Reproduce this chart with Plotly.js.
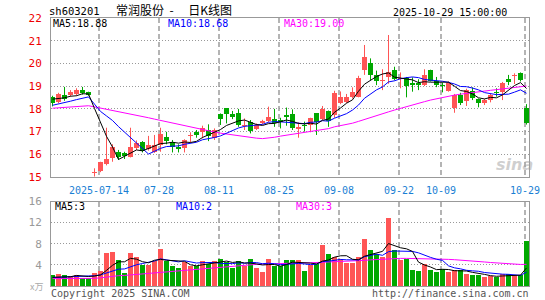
<!DOCTYPE html>
<html><head><meta charset="utf-8">
<script src="https://cdn.plot.ly/plotly-3.0.1.min.js"></script>
<style>html,body{margin:0;padding:0;background:#fff;}#chart{width:545px;height:300px;}</style>
</head><body><div id="chart"></div>
<script>
const dates = ['07-02','07-03','07-04','07-07','07-08','07-09','07-10','07-11','07-14','07-15','07-16','07-17','07-18','07-21','07-22','07-23','07-24','07-25','07-28','07-29','07-30','07-31',
'08-01','08-04','08-05','08-06','08-07','08-08','08-11','08-12','08-13','08-14','08-15','08-18','08-19','08-20','08-21','08-22','08-25','08-26','08-27','08-28','08-29',
'09-01','09-02','09-03','09-04','09-05','09-08','09-09','09-10','09-11','09-12','09-15','09-16','09-17','09-18','09-19','09-22','09-23','09-24','09-25','09-26','09-29','09-30',
'10-09','10-10','10-13','10-14','10-15','10-16','10-17','10-20','10-21','10-22','10-23','10-24','10-27','10-28','10-29'];

const openP = [18.50,18.31,18.60,18.60,18.63,18.82,18.72,15.18,15.25,15.56,
15.84,16.07,16.03,15.88,16.25,16.51,16.22,16.10,16.40,16.74,
16.54,16.32,16.25,16.78,16.96,16.96,17.06,16.69,17.76,18.01,
17.76,17.79,17.22,17.40,17.10,17.37,17.46,17.54,17.50,17.70,
17.76,17.12,17.28,17.28,17.79,17.53,17.90,17.72,18.26,18.31,
18.53,18.53,19.71,20.03,19.47,19.24,19.38,19.72,19.30,19.34,
19.15,19.12,19.05,19.71,19.24,19.02,18.79,18.01,18.60,18.35,
18.79,18.41,18.24,18.38,18.73,18.75,19.31,19.42,19.56,18.01];
const highP = [18.57,18.70,18.96,18.82,18.90,18.96,18.75,15.37,15.66,17.16,
16.43,16.18,16.10,17.16,16.60,16.57,16.80,16.84,17.16,16.98,
16.62,16.43,16.65,16.96,17.06,17.25,17.31,17.13,17.79,18.03,
17.90,17.99,17.57,17.50,17.35,17.51,18.09,17.99,17.60,18.05,
17.97,17.40,17.43,17.60,17.80,18.12,17.92,18.79,18.76,18.65,
18.94,19.45,20.81,20.22,19.68,19.74,21.25,19.85,19.60,19.40,
19.38,19.30,19.74,19.72,19.40,19.15,19.20,18.65,18.70,18.88,
18.94,18.45,18.44,18.65,18.90,19.18,19.49,19.56,19.60,18.20];
const lowP = [18.10,18.24,18.35,18.53,18.57,18.62,18.57,15.00,15.20,15.50,
15.66,15.74,15.78,15.85,16.18,16.07,16.15,16.05,16.10,16.43,
16.07,16.07,16.07,16.51,16.72,16.69,16.57,16.62,17.28,17.35,
17.54,17.20,17.06,16.91,17.06,17.31,17.40,17.20,17.13,17.25,
17.06,16.72,16.99,16.96,16.84,17.50,17.20,17.60,18.20,18.25,
18.45,18.50,19.49,19.26,19.04,18.82,19.10,19.25,18.90,18.50,
18.75,18.82,19.00,19.20,18.95,18.72,18.75,17.82,18.16,18.12,
18.38,18.06,18.16,18.28,18.53,18.38,19.04,19.09,19.20,17.30];
const closeP = [18.24,18.63,18.41,18.72,18.84,18.68,18.60,15.22,15.63,15.78,
16.31,15.88,15.91,16.31,16.47,16.13,16.40,16.40,16.90,16.57,
16.32,16.22,16.62,16.82,16.84,17.16,16.81,17.06,17.53,17.76,
17.65,17.28,17.28,17.01,17.28,17.46,17.65,17.35,17.43,17.62,
17.15,17.20,17.25,17.57,17.43,18.00,17.47,18.71,18.53,18.50,
18.74,19.35,20.29,19.49,19.24,19.28,19.62,19.30,19.36,19.00,
19.05,19.05,19.50,19.24,19.03,18.98,19.12,18.60,18.26,18.82,
18.46,18.24,18.38,18.60,18.70,19.15,19.19,19.45,19.26,17.38];
const volume = [2.0,2.2,2.0,1.8,2.0,1.6,1.6,2.4,2.9,6.3,
6.4,4.9,2.4,6.2,5.5,4.0,3.9,4.8,7.0,4.7,
3.8,3.4,4.5,3.7,3.7,4.8,4.2,4.8,5.2,4.6,
3.5,4.8,3.7,5.2,3.5,2.7,5.2,3.7,3.7,5.0,
5.0,5.0,2.8,3.9,4.2,7.7,6.0,5.5,5.2,4.3,
4.3,5.5,8.9,6.8,6.1,5.5,12.9,6.8,4.9,5.1,
3.0,2.8,4.1,3.0,2.6,3.3,2.6,3.0,3.0,2.3,
2.0,2.0,1.7,1.8,1.7,2.3,2.3,2.0,2.0,8.5];

const ma5 = [18.42,18.45,18.48,18.55,18.57,18.66,18.65,18.01,17.39,16.78,
16.31,15.76,15.90,16.04,16.18,16.14,16.24,16.34,16.46,16.48,
16.52,16.48,16.53,16.51,16.56,16.73,16.85,16.94,17.08,17.26,
17.36,17.46,17.50,17.40,17.30,17.26,17.34,17.35,17.43,17.50,
17.44,17.35,17.33,17.36,17.32,17.49,17.54,17.84,18.03,18.24,
18.39,18.77,19.08,19.27,19.42,19.53,19.58,19.39,19.36,19.31,
19.27,19.15,19.19,19.17,19.17,19.16,19.17,18.99,18.80,18.76,
18.65,18.48,18.43,18.50,18.48,18.61,18.80,19.02,19.15,18.89];
const ma10 = [18.15,18.20,18.27,18.33,18.40,18.45,18.52,18.20,17.88,17.68,
17.48,17.21,16.96,16.72,16.48,16.22,16.00,16.12,16.25,16.33,
16.33,16.36,16.43,16.49,16.52,16.63,16.67,16.73,16.80,16.91,
17.05,17.15,17.22,17.24,17.28,17.31,17.40,17.43,17.42,17.40,
17.35,17.34,17.34,17.40,17.41,17.47,17.45,17.58,17.69,17.78,
17.94,18.16,18.46,18.65,18.83,18.96,19.18,19.23,19.32,19.37,
19.40,19.37,19.29,19.26,19.24,19.21,19.16,19.09,18.98,18.97,
18.91,18.83,18.71,18.65,18.62,18.63,18.64,18.73,18.83,18.68];
const ma30 = [18.02,18.04,18.06,18.08,18.10,18.12,18.13,18.08,18.03,17.98,
17.93,17.88,17.83,17.78,17.73,17.66,17.60,17.54,17.48,17.42,
17.36,17.30,17.24,17.18,17.12,17.07,17.02,16.97,16.92,16.88,
16.84,16.80,16.76,16.73,16.70,16.68,16.70,16.74,16.79,16.83,
16.87,16.90,16.94,16.98,17.02,17.06,17.12,17.20,17.25,17.30,
17.36,17.44,17.53,17.61,17.69,17.77,17.86,17.94,18.02,18.10,
18.17,18.24,18.31,18.38,18.44,18.50,18.55,18.60,18.64,18.68,
18.72,18.75,18.78,18.81,18.84,18.87,18.90,18.94,18.97,19.00];

const volMa5 = [1.65,1.68,1.70,1.75,2.00,1.92,1.80,1.88,2.10,2.96,
3.92,4.58,4.58,5.24,5.08,4.60,4.40,4.88,5.04,4.88,
4.84,4.74,4.68,4.02,3.82,4.02,4.18,4.24,4.54,4.72,
4.46,4.58,4.36,4.36,4.14,3.98,4.06,4.06,3.76,4.06,
4.52,4.48,4.30,4.34,4.18,4.72,4.92,5.46,5.72,5.74,
5.06,4.96,5.64,5.96,6.32,6.56,8.04,7.62,7.24,7.04,
6.54,4.52,3.98,3.60,3.10,3.16,3.12,2.90,2.90,2.84,
2.58,2.46,2.20,1.96,1.84,1.90,1.96,2.02,2.06,3.42];
const volMa10 = [1.60,1.65,1.70,1.75,1.80,1.85,1.85,1.95,2.10,2.48,
2.92,3.19,3.23,3.67,4.02,4.26,4.49,4.73,5.14,4.98,
4.72,4.57,4.78,4.53,4.35,4.43,4.46,4.46,4.28,4.27,
4.24,4.38,4.30,4.45,4.43,4.22,4.32,4.21,4.06,4.10,
4.25,4.27,4.18,4.05,4.12,4.62,4.70,4.88,5.03,4.96,
4.89,4.94,5.55,5.84,6.03,5.81,6.50,6.63,6.60,6.68,
6.55,6.28,5.80,5.42,5.07,4.85,3.82,3.44,3.25,2.97,
2.87,2.79,2.55,2.43,2.34,2.24,2.21,2.11,2.01,2.63];
const volMa30 = [1.40,1.40,1.40,1.40,1.40,1.40,1.40,1.45,1.55,1.70,
1.85,1.95,2.00,2.10,2.20,2.25,2.30,2.40,2.55,2.65,
2.75,2.85,2.95,3.05,3.15,3.25,3.35,3.45,3.55,3.65,
3.75,3.85,3.95,4.05,4.10,4.15,4.20,4.25,4.30,4.32,
4.35,4.37,4.38,4.40,4.42,4.50,4.55,4.60,4.65,4.68,
4.70,4.75,4.85,4.95,5.02,5.08,5.20,5.22,5.23,5.23,
5.22,5.20,5.18,5.15,5.12,5.08,5.04,4.98,4.92,4.85,
4.75,4.65,4.55,4.45,4.35,4.25,4.18,4.12,4.08,4.10];

const priceTicks = [15,16,17,18,19,20,21,22];
const volTicks = [4,8,12,16];
const tickDates = ['07-14','07-28','08-11','08-25','09-08','09-22','10-09','10-29'];
const tickText = ['2025-07-14','07-28','08-11','08-25','09-08','09-22','10-09','10-29'];

// ---- geometry / style ----
const L = 51, R = 529, T = 18, B = 286;
const UP = '#ff5555', DOWN = '#00a800';
const MONO = 'DejaVu Sans Mono';
const x = dates.map((d, i) => i);
const isUp = closeP.map((c, i) => c >= openP[i]);
const tickIdx = tickDates.map(d => dates.indexOf(d));
const gridX = tickIdx.map(i => i - 0.25);

function wicks(up) {
  const xs = [], ys = [];
  x.forEach(i => { if (isUp[i] === up) { xs.push(i, i, null); ys.push(lowP[i], highP[i], null); } });
  return {type:'scatter', mode:'lines', x:xs, y:ys, xaxis:'x', yaxis:'y',
    line:{color: up ? UP : DOWN, width:1}, hoverinfo:'skip'};
}
const bodyTrace = {
  type:'bar', x:x, xaxis:'x', yaxis:'y',
  base: x.map(i => Math.min(openP[i], closeP[i])),
  y: x.map(i => Math.max(Math.abs(closeP[i] - openP[i]), 0.045)),
  width: 0.8333,
  marker:{color: x.map(i => isUp[i] ? UP : DOWN), line:{width:0}}, hoverinfo:'skip'
};
function line(y, color, xa, ya) {
  return {type:'scatter', mode:'lines', x:x, y:y, xaxis:xa, yaxis:ya,
    line:{color:color, width:1}, hoverinfo:'skip'};
}
const volTrace = {
  type:'bar', x:x, y:volume, xaxis:'x2', yaxis:'y2', width:0.8333,
  marker:{color: x.map(i => isUp[i] ? UP : DOWN), line:{width:0}}, hoverinfo:'skip'
};

const data = [
  wicks(true), wicks(false), bodyTrace,
  line(ma30, '#ff00ff', 'x', 'y'), line(ma10, '#0000ff', 'x', 'y'), line(ma5, '#000000', 'x', 'y'),
  volTrace,
  line(volMa30, '#ff00ff', 'x2', 'y2'), line(volMa10, '#0000ff', 'x2', 'y2'), line(volMa5, '#000000', 'x2', 'y2')
];

const px = v => (v - L) / (R - L);
const py = v => (B - v) / (B - T);
function ann(text, xp, yp, anchor, color, size, family, extra) {
  return Object.assign({text:text, x:px(xp), y:py(yp), xref:'paper', yref:'paper',
    xanchor:anchor, yanchor:'middle', showarrow:false, borderpad:0,
    font:{family:family || MONO, size:size || 10, color:color || '#000'}}, extra || {});
}

const xRange = [-0.25, -0.25 + (R - L) / 6];
const xCommon = {
  range:xRange, tickmode:'array', tickvals:gridX, ticktext:tickText,
  showgrid:true, gridcolor:'#b4b4b4', griddash:'5px,3px', gridwidth:2,
  showline:true, mirror:true, linecolor:'#999999', linewidth:1,
  zeroline:false, fixedrange:true,
  ticks:'outside', ticklen:4, tickcolor:'rgba(0,0,0,0)'
};
const priceBottom = 176.7, volTop = 201.5;
const layout = {
  width:545, height:300,
  margin:{l:L, r:545 - R, t:T, b:300 - B, pad:0},
  paper_bgcolor:'#ffffff', plot_bgcolor:'#ffffff',
  showlegend:false, barmode:'overlay', bargap:0,
  xaxis:Object.assign({}, xCommon, {anchor:'y', domain:[0,1],
    tickfont:{family:MONO, size:10, color:'#1a7fd4'}}),
  xaxis2:Object.assign({}, xCommon, {anchor:'y2', domain:[0,1], showticklabels:false}),
  yaxis:{domain:[py(priceBottom), 1], range:[15,22], tickmode:'array', tickvals:priceTicks,
    ticktext:priceTicks.map(String),
    showgrid:true, gridcolor:'#999999', griddash:'1px,2px', gridwidth:1,
    showline:true, mirror:true, linecolor:'#999999', linewidth:1, zeroline:false, fixedrange:true,
    ticks:'outside', ticklen:6, tickcolor:'rgba(0,0,0,0)',
    tickfont:{family:MONO, size:11, color:'#ee0000'}},
  yaxis2:{domain:[0, py(volTop)], range:[0,16], tickmode:'array', tickvals:volTicks,
    ticktext:volTicks.map(String),
    showgrid:true, gridcolor:'#999999', griddash:'1px,2px', gridwidth:1,
    showline:true, mirror:true, linecolor:'#999999', linewidth:1, zeroline:false, fixedrange:true,
    ticks:'outside', ticklen:6, tickcolor:'rgba(0,0,0,0)',
    tickfont:{family:MONO, size:11, color:'#999999'}},
  annotations:[
    ann('sh603201', 48, 11, 'left', '#000', 10.5),
    ann('常润股份  -　 日K线图', 115, 9, 'left', '#000', 12, 'Noto Sans CJK SC'),
    ann('2025-10-29 15:00:00', 508, 12, 'right', '#000', 10),
    ann('MA5:18.88', 52, 24, 'left', '#000', 10),
    ann('MA10:18.68', 167, 24, 'left', '#0000ff', 10),
    ann('MA30:19.00', 283, 24, 'left', '#ff00ff', 10),
    ann('MA5:3', 54, 206, 'left', '#000', 10),
    ann('MA10:2', 175, 206, 'left', '#0000ff', 10),
    ann('MA30:3', 295, 206, 'left', '#ff00ff', 10),
    ann('x万', 36, 286, 'center', '#aaaaaa', 9, 'Noto Sans CJK SC'),
    ann('Copyright 2025 SINA.COM', 50, 293, 'left', '#555555', 10),
    ann('http://finance.sina.com.cn', 530, 293, 'right', '#555555', 10),
    ann('sina', 514, 164, 'center', 'rgba(160,160,160,0.5)', 16, 'DejaVu Sans', {font:{family:'DejaVu Sans', size:16, color:'rgba(160,160,160,0.5)', weight:'bold', style:'italic'}})
  ]
};

Plotly.newPlot('chart', data, layout, {staticPlot:true, displayModeBar:false});
</script>
</body></html>
